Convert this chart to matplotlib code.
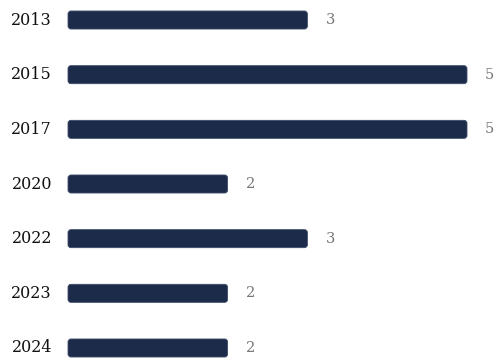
import matplotlib.pyplot as plt
from matplotlib.patches import FancyBboxPatch

years = ["2013", "2015", "2017", "2020", "2022", "2023", "2024"]
counts = [3, 5, 5, 2, 3, 2, 2]

W, H = 494, 358
fig = plt.figure(figsize=(W / 100, H / 100), dpi=100)
ax = fig.add_axes([68 / W, 0, 399 / W, 1])
ax.set_xlim(0, 5)
ax.set_ylim(6.183, -0.366)
ax.axis("off")

pos = list(range(len(years)))
bars = ax.barh(pos, counts, height=0.33, color="none")
px_x = 399 / 5
px_y = 54.67
r = 3.0
for b in bars:
    x, y = b.get_x(), b.get_y()
    w, h = b.get_width(), b.get_height()
    b.set_visible(False)
    p = FancyBboxPatch((x, y), w, h,
                       boxstyle=f"round,pad=0,rounding_size={r / px_x}",
                       mutation_aspect=(px_x / px_y),
                       facecolor="#1c2b4a", edgecolor="#3e4c68", linewidth=0.6,
                       clip_on=False)
    ax.add_patch(p)

font = "DejaVu Serif"
for i, (yr, c) in enumerate(zip(years, counts)):
    ax.annotate(yr, (0, i), xytext=(-16, 0), textcoords="offset pixels",
                ha="right", va="center", fontsize=11.5, family=font, color="#111111")
    ax.annotate(str(c), (c, i), xytext=(18, 0), textcoords="offset pixels",
                ha="left", va="center", fontsize=10.5, family=font, color="#777777")

fig.savefig("out.png", dpi=100)
